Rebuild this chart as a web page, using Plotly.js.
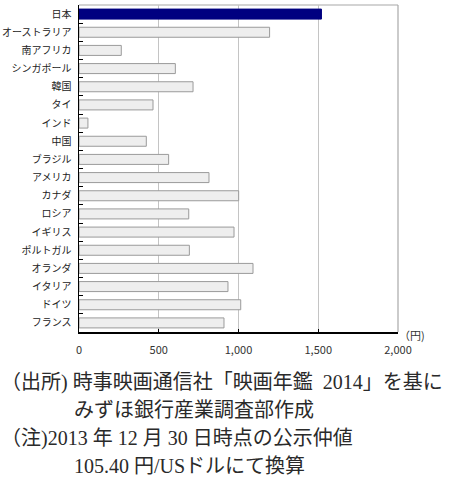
<!DOCTYPE html>
<html><head><meta charset="utf-8">
<script src="https://cdn.plot.ly/plotly-3.0.1.min.js"></script>
<style>html,body{margin:0;padding:0;background:#fff;}#chart{width:450px;height:481px;}</style>
</head><body><div id="chart"></div>
<script>
var countries = ["日本","オーストラリア","南アフリカ","シンガポール","韓国","タイ","インド","中国","ブラジル","アメリカ","カナダ","ロシア","イギリス","ポルトガル","オランダ","イタリア","ドイツ","フランス"];
var prices = [1520,1195,265,604,715,464,56,422,562,815,1001,688,972,692,1091,934,1014,909];
var xTickVals = [0,500,1000,1500,2000];
var xTickText = ["0","500","1,000","1,500","2,000"];
var unitLabel = "（円)";
var notes = [
  "（出所)\u00a0時事映画通信社「映画年鑑\u00a0\u00a02014」を基に",
  "みずほ銀行産業調査部作成",
  "（注)2013 年 12 月 30 日時点の公示仲値",
  "105.40 円/USドルにて換算"
];

var fills = countries.map(function(c){ return c==="日本" ? "#000080" : "#eeeeee"; });
var lines = countries.map(function(c){ return c==="日本" ? "#000080" : "#9a9a9a"; });

var L=79, R=52, T=5, B=149, W=450, H=481;
var pw=W-L-R, ph=H-T-B;
function px(x){ return (x-L)/pw; }
function py(y){ return (H-B-y)/ph; }

var trace = {
  type:"bar", orientation:"h", y:countries, x:prices,
  marker:{color:fills, line:{color:lines, width:1}},
  width:0.55, hoverinfo:"none"
};

var noteFont = {family:"Liberation Serif, Noto Sans CJK JP", size:20, color:"#2a2a2a"};
var layout = {
  width:W, height:H, margin:{l:L,r:R,t:T,b:B,pad:0},
  paper_bgcolor:"#fff", plot_bgcolor:"#fff", showlegend:false,
  font:{family:"Noto Sans CJK JP, sans-serif", size:10, color:"#222"},
  xaxis:{range:[0,2000], tickvals:xTickVals, ticktext:xTickText, showgrid:true, gridcolor:"#c4c4c4", gridwidth:1,
    zeroline:false, showline:true, linecolor:"#000", linewidth:1.5, ticks:"inside", ticklen:3, tickcolor:"#000",
    ticklabelstandoff:7, tickfont:{size:11, color:"#333"}, fixedrange:true},
  yaxis:{type:"category", autorange:"reversed", showgrid:false, zeroline:false, showline:true, linecolor:"#000", linewidth:1.5,
    ticks:"inside", tickson:"boundaries", ticklen:4, tickcolor:"#000", ticklabelstandoff:4,
    tickfont:{size:10, color:"#222"}, fixedrange:true},
  shapes:[
    {type:"line", xref:"paper", yref:"paper", x0:0, x1:1, y0:1, y1:1, line:{color:"#a8a8a8", width:1.2}, layer:"below"},
    {type:"line", xref:"paper", yref:"paper", x0:1, x1:1, y0:0, y1:1, line:{color:"#a8a8a8", width:1.2}, layer:"below"}
  ],
  annotations:[
    {xref:"paper", yref:"paper", x:px(397), y:py(335), xanchor:"left", yanchor:"middle", text:unitLabel, showarrow:false, font:{size:11, color:"#333"}},
    {xref:"paper", yref:"paper", x:px(-1), y:py(382), xanchor:"left", yanchor:"middle", text:notes[0], showarrow:false, font:noteFont},
    {xref:"paper", yref:"paper", x:px(72), y:py(410), xanchor:"left", yanchor:"middle", text:notes[1], showarrow:false, font:noteFont},
    {xref:"paper", yref:"paper", x:px(-1), y:py(438), xanchor:"left", yanchor:"middle", text:notes[2], showarrow:false, font:noteFont},
    {xref:"paper", yref:"paper", x:px(72), y:py(466), xanchor:"left", yanchor:"middle", text:notes[3], showarrow:false, font:noteFont}
  ]
};
Plotly.newPlot("chart",[trace],layout,{staticPlot:true, displayModeBar:false});
</script></body></html>
